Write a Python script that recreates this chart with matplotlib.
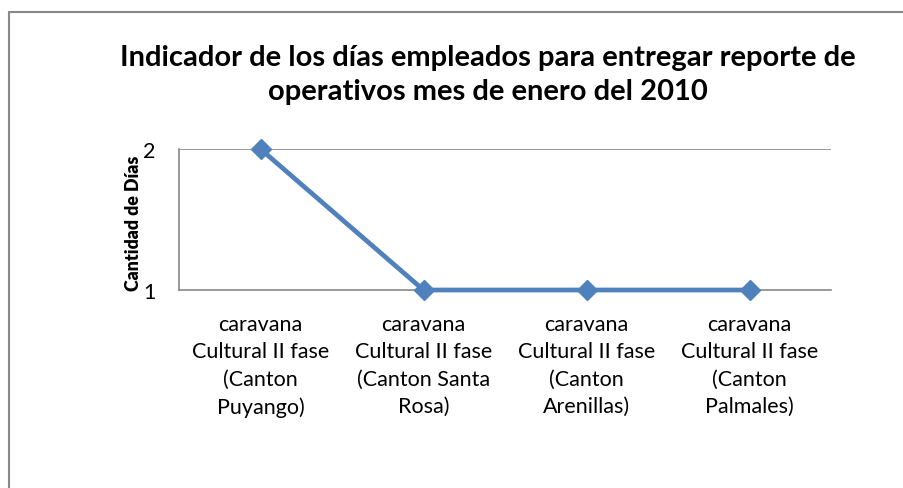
import matplotlib.pyplot as plt
from matplotlib.patches import Rectangle

categories = ['caravana\nCultural II fase\n(Canton\nPuyango)',
              'caravana\nCultural II fase\n(Canton Santa\nRosa)',
              'caravana\nCultural II fase\n(Canton\nArenillas)',
              'caravana\nCultural II fase\n(Canton\nPalmales)']
dias = [2, 1, 1, 1]

plt.rcParams['font.family'] = ['Lato', 'DejaVu Sans']

fig = plt.figure(figsize=(9.04, 4.89), dpi=100)
fig.patches.append(Rectangle((8.5 / 904, -0.1), 1.0, 1.1 - 12.5 / 489,
                             transform=fig.transFigure, fill=False,
                             edgecolor='#888888', linewidth=1.5))

ax = fig.add_axes([179 / 904, 198 / 489, 652 / 904, 141 / 489])
x = range(len(categories))
ax.plot(x, dias, color='#4F81BD', linewidth=3.4, marker='D', markersize=10,
        clip_on=False, zorder=3)
ax.set_xlim(-0.5, len(categories) - 0.5)
ax.set_ylim(1, 2)
ax.set_yticks([1, 2])
ax.set_yticklabels(['1', '2'], fontsize=15.5)
ax.set_xticks(list(x))
ax.set_xticklabels(categories, fontsize=15.5, linespacing=1.47)
ax.tick_params(length=0)
ax.tick_params(axis='y', pad=17)
ax.tick_params(axis='x', pad=17)
ax.axhline(2, color='#888888', linewidth=1.2, zorder=1)
for s in ['top', 'right']:
    ax.spines[s].set_visible(False)
for s in ['left', 'bottom']:
    ax.spines[s].set_color('#888888')
    ax.spines[s].set_linewidth(1.2)
ax.set_ylabel('Cantidad de Días', fontsize=12.8, fontweight='heavy')
ax.yaxis.set_label_coords(-37 / 652, 0.48)

fig.text(488 / 904, 1 - 75 / 489,
         'Indicador de los días empleados para entregar reporte de\noperativos mes de enero del 2010',
         ha='center', va='center', fontsize=21, fontweight='bold', linespacing=1.35)

fig.savefig('out.png', dpi=100)
